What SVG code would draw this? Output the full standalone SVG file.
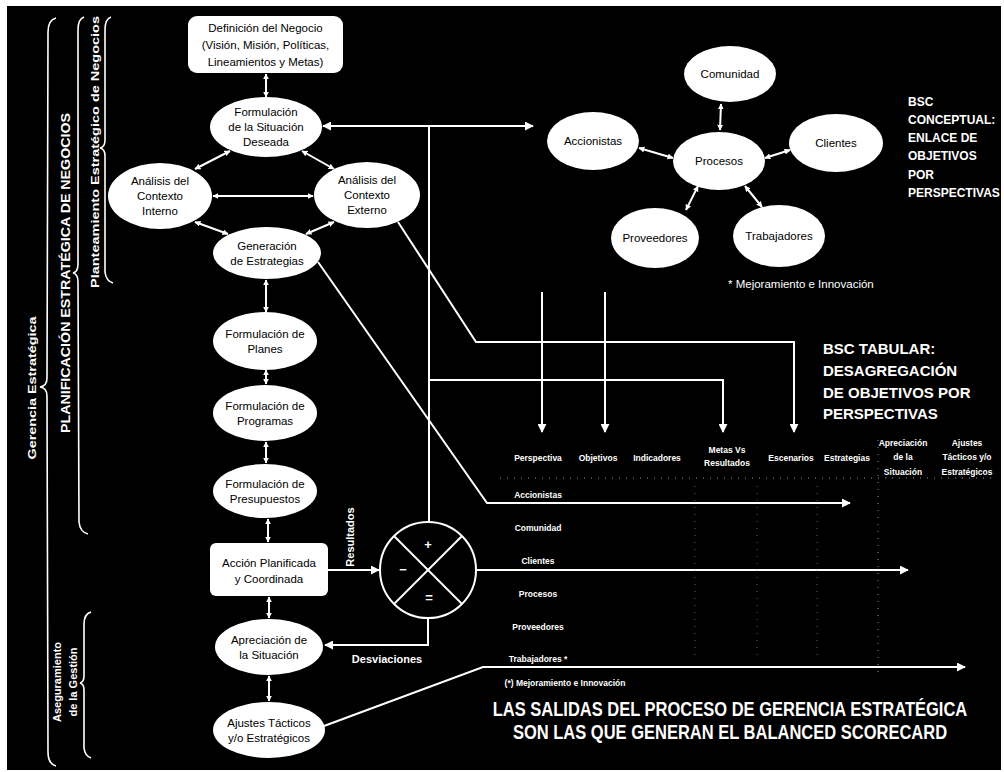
<svg xmlns="http://www.w3.org/2000/svg" width="1004" height="772" viewBox="0 0 1004 772">
<defs>
<style>
.bg{fill:#000}
.nd{fill:#fff;stroke:none}
.t{font-family:"Liberation Sans",Arial,sans-serif;font-size:11.5px;fill:#000;text-anchor:middle}
.w{font-family:"Liberation Sans",Arial,sans-serif;fill:#fff;font-weight:bold}
.c{stroke:#fff;stroke-width:2;fill:none}
.cs{stroke:#fff;stroke-width:2;fill:none;marker-start:url(#s);marker-end:url(#s)}
.br{stroke:#fff;stroke-width:1.6;fill:none}
.dot{stroke:#999;stroke-width:1;stroke-dasharray:1 6;fill:none}
.hd{font-family:"Liberation Sans",Arial,sans-serif;font-size:8.5px;fill:#fff;font-weight:bold;text-anchor:middle}
</style>
<marker id="s" viewBox="0 0 10 10" refX="9" refY="5" markerWidth="3" markerHeight="3" orient="auto-start-reverse"><path d="M0,0 L10,5 L0,10 z" fill="#fff"/></marker>
<marker id="a" viewBox="0 0 10 10" refX="9" refY="5" markerWidth="4.5" markerHeight="4.5" orient="auto-start-reverse"><path d="M0,0 L10,5 L0,10 z" fill="#fff"/></marker>
</defs>
<rect x="0" y="0" width="1004" height="772" fill="#fff"/>
<rect class="bg" x="7" y="6" width="994" height="764"/>

<!-- left braces and labels -->
<g id="braces">
<path class="br" d="M56,18 Q48,20 48,32 L47,378 Q47,386 40,387 Q47,388 47,396 L48,752 Q48,764 56,766"/>
<path class="br" d="M84,17 Q78,19 78,30 L78,264 Q78,272 73,273 Q78,274 78,282 L79,522 Q80,532 88,534"/>
<path class="br" d="M111,17 Q105,19 105,30 L105,140 Q105,147 100,148 Q105,149 105,156 L105,272 Q106,281 113,283"/>
<path class="br" d="M91,612 Q84,614 84,624 L84,676 Q84,682 80,683 Q84,684 84,690 L84,748 Q85,756 91,758"/>
</g>
<g id="lbl-gerencia"><text class="w" font-size="11" text-anchor="middle" textLength="143" lengthAdjust="spacingAndGlyphs" transform="translate(36,388) rotate(-90)">Gerencia Estratégica</text></g>
<g id="lbl-planificacion"><text class="w" font-size="12" text-anchor="middle" textLength="320" lengthAdjust="spacingAndGlyphs" transform="translate(70,273) rotate(-90)">PLANIFICACIÓN ESTRATÉGICA DE NEGOCIOS</text></g>
<g id="lbl-planteamiento"><text class="w" font-size="11" text-anchor="middle" textLength="272" lengthAdjust="spacingAndGlyphs" transform="translate(99,152) rotate(-90)">Planteamiento Estratégico de Negocios</text></g>
<g id="lbl-aseguramiento"><text class="w" font-size="11" text-anchor="middle" transform="translate(61,682) rotate(-90)"><tspan x="0" y="0">Aseguramiento</tspan><tspan x="0" y="16">de la Gestión</tspan></text></g>

<!-- connectors -->
<g id="connectors">
<line class="cs" x1="266" y1="74" x2="266" y2="97"/>
<line class="cs" x1="230" y1="151" x2="195" y2="169"/>
<line class="cs" x1="302" y1="151" x2="334" y2="169"/>
<line class="cs" x1="213" y1="196" x2="313" y2="196"/>
<line class="cs" x1="195" y1="222" x2="228" y2="234"/>
<line class="cs" x1="334" y1="222" x2="306" y2="234"/>
<line class="cs" x1="266" y1="280" x2="266" y2="312"/>
<line class="cs" x1="266" y1="370" x2="266" y2="384"/>
<line class="cs" x1="266" y1="442" x2="266" y2="463"/>
<line class="cs" x1="268" y1="519" x2="268" y2="542"/>
<line class="cs" x1="269" y1="597" x2="269" y2="618"/>
<line class="cs" x1="269" y1="676" x2="269" y2="701"/>

<line class="c" x1="323" y1="126" x2="533" y2="126" marker-start="url(#a)" marker-end="url(#a)"/>
<line class="c" x1="429" y1="126" x2="429" y2="522"/>
<polyline class="c" points="429,380 723,380 723,432" marker-end="url(#a)"/>
<line class="c" x1="542" y1="292" x2="542" y2="432" marker-end="url(#a)"/>
<line class="c" x1="605" y1="292" x2="605" y2="432" marker-end="url(#a)"/>
<polyline class="c" points="398,222 476,342 794,342 794,432" marker-end="url(#a)"/>
<polyline class="c" points="318,262 487,503 850,503" marker-end="url(#a)"/>
<line class="c" x1="328" y1="570" x2="379" y2="570" marker-end="url(#a)"/>
<line class="c" x1="477" y1="570" x2="908" y2="570" marker-end="url(#a)"/>
<polyline class="c" points="428,618 428,645 325,645" marker-end="url(#a)"/>
<polyline class="c" points="324,726 483,667 965,667" marker-end="url(#a)"/>

<line class="cs" x1="721" y1="104" x2="720" y2="130"/>
<line class="cs" x1="639" y1="148" x2="673" y2="158"/>
<line class="cs" x1="790" y1="150" x2="765" y2="158"/>
<line class="cs" x1="686" y1="210" x2="698" y2="186"/>
<line class="cs" x1="762" y1="207" x2="745" y2="186"/>
</g>

<!-- process nodes -->
<g id="n-definicion"><rect class="nd" x="188" y="16" width="155" height="57" rx="9"/>
<text class="t" x="265.5" y="32">Definición del Negocio</text><text class="t" x="265.5" y="49">(Visión, Misión, Políticas,</text><text class="t" x="265.5" y="66">Lineamientos y Metas)</text></g>
<g id="n-formulacion"><ellipse class="nd" cx="266" cy="127" rx="56" ry="30"/>
<text class="t" x="266" y="116">Formulación</text><text class="t" x="266" y="131">de la Situación</text><text class="t" x="266" y="146">Deseada</text></g>
<g id="n-interno"><ellipse class="nd" cx="160" cy="196" rx="52" ry="33"/>
<text class="t" x="160" y="185">Análisis del</text><text class="t" x="160" y="200">Contexto</text><text class="t" x="160" y="215">Interno</text></g>
<g id="n-externo"><ellipse class="nd" cx="367" cy="195" rx="53" ry="33"/>
<text class="t" x="367" y="184">Análisis del</text><text class="t" x="367" y="199">Contexto</text><text class="t" x="367" y="214">Externo</text></g>
<g id="n-generacion"><ellipse class="nd" cx="267" cy="253" rx="54" ry="26"/>
<text class="t" x="267" y="250">Generación</text><text class="t" x="267" y="265">de Estrategias</text></g>
<g id="n-planes"><ellipse class="nd" cx="265" cy="341" rx="52" ry="29"/>
<text class="t" x="265" y="338">Formulación de</text><text class="t" x="265" y="353">Planes</text></g>
<g id="n-programas"><ellipse class="nd" cx="265" cy="413" rx="52" ry="28"/>
<text class="t" x="265" y="410">Formulación de</text><text class="t" x="265" y="425">Programas</text></g>
<g id="n-presupuestos"><ellipse class="nd" cx="265" cy="491" rx="52" ry="27"/>
<text class="t" x="265" y="488">Formulación de</text><text class="t" x="265" y="503">Presupuestos</text></g>
<g id="n-accion"><rect class="nd" x="210" y="543" width="118" height="53" rx="6"/>
<text class="t" x="269" y="567">Acción Planificada</text><text class="t" x="269" y="583">y Coordinada</text></g>
<g id="n-apreciacion"><ellipse class="nd" cx="269" cy="647" rx="54" ry="28"/>
<text class="t" x="269" y="644">Apreciación de</text><text class="t" x="269" y="659">la Situación</text></g>
<g id="n-ajustes"><ellipse class="nd" cx="269" cy="730" rx="56" ry="28"/>
<text class="t" x="269" y="727">Ajustes Tácticos</text><text class="t" x="269" y="742">y/o Estratégicos</text></g>

<!-- comparator -->
<g id="n-comparador"><circle cx="428" cy="570" r="48" fill="#000" stroke="#fff" stroke-width="2"/>
<line class="c" x1="394" y1="536" x2="462" y2="604"/><line class="c" x1="462" y1="536" x2="394" y2="604"/>
<text class="w" font-size="13" text-anchor="middle" x="428" y="549">+</text>
<text class="w" font-size="13" text-anchor="middle" x="403" y="574">−</text>
<text class="w" font-size="13" text-anchor="middle" x="429" y="602">=</text></g>
<g id="lbl-resultados"><text class="w" font-size="11" text-anchor="middle" transform="translate(354,537) rotate(-90)">Resultados</text></g>
<g id="lbl-desviaciones"><text class="w" font-size="11" text-anchor="middle" x="387" y="663">Desviaciones</text></g>

<!-- BSC conceptual -->
<g id="n-comunidad"><ellipse class="nd" cx="730" cy="74" rx="46" ry="28"/><text class="t" x="730" y="78">Comunidad</text></g>
<g id="n-procesos"><ellipse class="nd" cx="719" cy="161" rx="46" ry="29"/><text class="t" x="719" y="165">Procesos</text></g>
<g id="n-accionistas"><ellipse class="nd" cx="593" cy="141" rx="46" ry="29"/><text class="t" x="593" y="145">Accionistas</text></g>
<g id="n-clientes"><ellipse class="nd" cx="836" cy="143" rx="47" ry="29"/><text class="t" x="836" y="147">Clientes</text></g>
<g id="n-proveedores"><ellipse class="nd" cx="655" cy="238" rx="44" ry="30"/><text class="t" x="655" y="242">Proveedores</text></g>
<g id="n-trabajadores"><ellipse class="nd" cx="779" cy="236" rx="46" ry="31"/><text class="t" x="779" y="240">Trabajadores</text></g>
<g id="lbl-mejora"><text font-family="Liberation Sans, Arial, sans-serif" font-size="11.5" fill="#fff" x="728" y="288">* Mejoramiento e Innovación</text></g>
<g id="lbl-bsc-conceptual"><text class="w" font-size="12">
<tspan x="908" y="106">BSC</tspan><tspan x="908" y="124">CONCEPTUAL:</tspan><tspan x="908" y="142">ENLACE DE</tspan><tspan x="908" y="160">OBJETIVOS</tspan><tspan x="908" y="179">POR</tspan><tspan x="908" y="197">PERSPECTIVAS</tspan></text></g>

<!-- BSC tabular -->
<g id="lbl-bsc-tabular"><text class="w" font-size="15">
<tspan x="823" y="354">BSC TABULAR:</tspan><tspan x="823" y="376">DESAGREGACIÓN</tspan><tspan x="823" y="398">DE OBJETIVOS POR</tspan><tspan x="823" y="419">PERSPECTIVAS</tspan></text></g>

<g id="table">
<line class="dot" x1="500" y1="478" x2="995" y2="478"/>
<line class="dot" x1="878" y1="440" x2="878" y2="672"/>
<line class="dot" x1="695" y1="486" x2="695" y2="660" stroke-dasharray="1 14" opacity="0.6"/>
<line class="dot" x1="757" y1="486" x2="757" y2="660" stroke-dasharray="1 18" opacity="0.6"/>
<line class="dot" x1="817" y1="486" x2="817" y2="660" stroke-dasharray="1 22" opacity="0.6"/>
<text class="hd" x="538" y="461">Perspectiva</text>
<text class="hd" x="598" y="461">Objetivos</text>
<text class="hd" x="657" y="461">Indicadores</text>
<text class="hd" x="727" y="453">Metas Vs</text><text class="hd" x="727" y="466">Resultados</text>
<text class="hd" x="791" y="461">Escenarios</text>
<text class="hd" x="847" y="461">Estrategias</text>
<text class="hd" x="903" y="446">Apreciación</text><text class="hd" x="903" y="460">de la</text><text class="hd" x="903" y="475">Situación</text>
<text class="hd" x="967" y="446">Ajustes</text><text class="hd" x="967" y="460">Tácticos y/o</text><text class="hd" x="967" y="475">Estratégicos</text>
<text class="hd" x="538" y="498">Accionistas</text>
<text class="hd" x="538" y="531">Comunidad</text>
<text class="hd" x="538" y="564">Clientes</text>
<text class="hd" x="538" y="597">Procesos</text>
<text class="hd" x="538" y="630">Proveedores</text>
<text class="hd" x="538" y="662">Trabajadores *</text>
<text class="hd" x="565" y="686" font-size="8">(*) Mejoramiento e Innovación</text>
</g>

<g id="lbl-salidas">
<text class="w" font-size="16.5" text-anchor="middle" transform="translate(730,716) scale(1,1.2)">LAS SALIDAS DEL PROCESO DE GERENCIA ESTRATÉGICA</text>
<text class="w" font-size="16.5" text-anchor="middle" transform="translate(730,739) scale(1,1.2)">SON LAS QUE GENERAN  EL BALANCED SCORECARD</text>
</g>
</svg>
